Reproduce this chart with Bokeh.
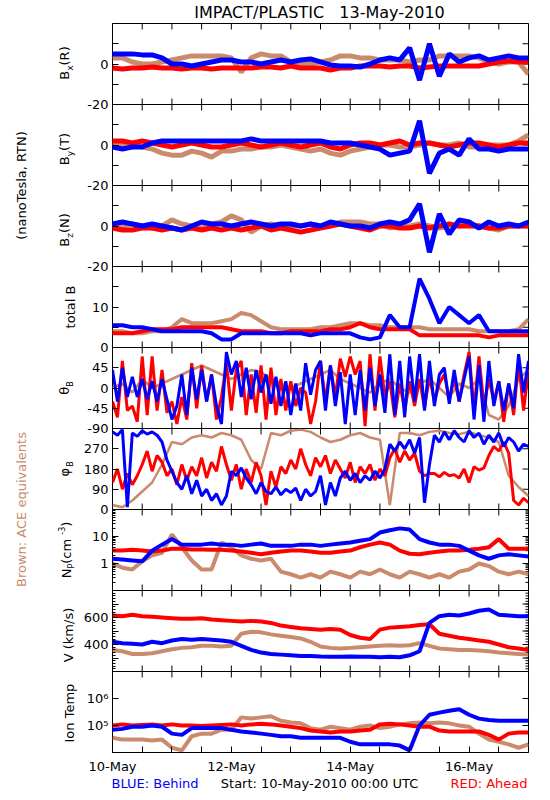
import math
from bokeh.plotting import figure
from bokeh.layouts import column, row
from bokeh.models import Label, FixedTicker, Range1d, CustomJSTickFormatter
from bokeh.embed import file_html
from bokeh.resources import INLINE

BLUE = "#0000ff"
RED = "#ff0000"
BROWN = "#c98b6c"
FONT = "DejaVu Sans"

# ---------------- data ----------------
hours4 = list(range(0, 169, 4))   # 4-hour samples, 10-May 00:00 .. 17-May 00:00
hours2 = list(range(0, 169, 2))   # 2-hour samples

xtick_hours = list(range(0, 169, 12))
xlabel_hours = [0, 48, 96, 144]
xlabel_names = ["10-May", "12-May", "14-May", "16-May"]

bx_blue = [5, 5, 5, 4.5, 4.5, 3, 0, 0, -1, 0, 1, 2, 2, 1, 1, 0, 1, 2, 1, 2, 2.5, 1, -0.5, -1,
           -1, -1.5, 0, 2, 3, 2, 8, -8, 10, -6, 5, 1, 3, 4, 2, 3, 4, 3, 3]
bx_red = [-2, -2.5, -2, -2, -1.5, -2, -2, -2.5, -2, -2, -2.5, -2, -2, -2, -2, -1.5, -1.5, -2,
          -1, -2, -2, -2, -3, -2, -2, -1, -1, -1, -1.5, -1, -1, -2, -1.5, -1, -1, -1,
          -1, -1, 0, 1, 1.5, 1, 1]
bx_brown = [3, 3, 1, 0, 0, 1, 2, 3, 4, 4, 4, 4, 3, -4, 3, 5, 4, 4, 1, 0, 0, 1, 2, 4,
            4, 3, 3, 2, 2, 2, 1, 2, 2, 4, 4, 4, 4, 3, 1, 0, 1, 1, -5]

by_blue = [-1, -2, -1, -1, 1, 2, 2, 2, 2, 2, 2, 2, 2, 2, 3, 2, 2, 2, 2, 2, 2, 2, 1, 1,
           1, 0, -1, -2, -5, -4, -3, 12, -14, -4, -2, -5, 3, -2, -2, -3, -2, -2, -2]
by_red = [2, 2, 1, 2, 1, 0, -1, 0, 1, 0, -1, -1, 0, 1, 0, -1, 0, 1, 0, -1, 0, 1, -1, -2,
          0, 1, 1, 0, 1, 2, 0, 1, 1, 0, -1, 0, 1, 1, 0, -1, 0, 1, 1]
by_brown = [1, 0, 0, -1, -2, -4, -5, -5, -3, -4, -6, -3, -3, -2, -2, -1, -1, 0, -1, -2, -3, -2, -4, -5,
            -3, -2, -1, 0, 0, -1, -1, 0, 1, 0, 0, 1, -1, -1, 0, 0, 0, 2, 5]

bz_blue = [1, 2, 1, 0, 1, 0, -1, -2, 0, 2, 1, 1, 0, 1, 2, 1, 0, 1, 1, 0, 1, 0, 2, 1,
           0, 0, -1, 1, 2, 1, 3, 11, -13, 6, -4, 3, 2, -1, 2, 0, 1, 0, 2]
bz_red = [-1, -2, -2, -1, -1, -2, -1, -2, -1, -2, -1, -2, -1, -2, -1, 0, -2, -1, -2, -3, -2, -1, 0, 1,
          0, -1, -2, 0, 0, -1, -1, 0, -1, 0, 1, 0, 0, 0, -1, -1, 0, 0, 0]
bz_brown = [0, 0, 1, 0, -1, 0, 3, 1, 0, -1, 1, 2, 5, 3, -3, 0, 1, 0, 0, 0, 1, 0, 0, 2,
            2, 2, 1, 1, -1, 0, 0, 1, 0, -1, 0, 0, 1, 0, -1, -2, 0, 0, 0]

totb_blue = [5.5, 5.5, 5, 5, 4.5, 4, 4, 4, 4, 4, 3.5, 2, 2, 3.5, 3.5, 3.5, 3.5, 3.5,
             3.5, 3.5, 3, 3.5, 3.5, 3.5, 3.5, 2.5, 2, 2.5, 8, 5, 5, 17, 12, 6, 10, 8,
             6, 8, 4, 4, 4, 4, 4]
totb_red = [3.5, 3.5, 3.5, 4, 4.5, 4.5, 4.5, 5, 5, 5, 5, 5, 4.5, 4, 4, 4, 3.5, 3.5,
            4, 4, 4, 4, 4.5, 4.5, 5, 6, 5, 4.5, 4.5, 4.5, 4.5, 3, 3, 3, 3, 3,
            3, 3, 2.5, 3, 3, 3, 3]
totb_brown = [4, 4, 3.5, 3.5, 4, 4, 5, 7, 6, 6, 6, 6.5, 7, 8.5, 8, 6.5, 5, 4.5,
              4.5, 4.5, 4.5, 5, 5, 5.5, 6, 6, 5.5, 5.5, 5, 5, 5, 5, 4.5, 4.5, 4.5, 4.5,
              4.5, 4, 4, 4, 4, 4.5, 7]

theta_blue = [40, -30, 45, -20, 25, -20, 20, -25, 15, -30, 20, -25, -70, -40, 30, -60,
              45, -25, 40, -30, 30, -40, -80, 80, 30, 60, -20, 45, -25, 40, -10,
              30, -35, 25, -40, 15, -60, 10, -50, 55, -15, 40, 60, -50, 50, -40, 35,
              -80, 30, -60, 40, -50, 45, -40, 30, -55, 75, -60, 60, -65, 70, -30,
              75, -50, 60, -40, 30, 45, -35, 40, -30, 20, 70, -70, 50, -75, 60, -40,
              15, -50, 10, -45, 75, -10, 60]
theta_red = [-30, -65, 60, -50, -40, -75, 70, -60, 70, -50, 40, -55, -30, -80, -20, -70,
             55, -45, 50, -30, 30, -70, -20, 55, -50, 40, 60, -60, 30, -55, 50,
             -70, 45, -60, 20, -50, 15, -40, 0, -10, -80, -30, 60, -30, 50, -20, 65,
             25, 70, 30, 60, -85, 75, -50, 70, -20, 15, -65, 10, -50, 15, -40,
             20, -45, 25, -30, 10, 30, -25, 20, -30, 30, 80, -50, 70, -40, 20, -30,
             15, -75, 10, -60, 60, -50, 40]
theta_brown = [0, 10, -10, 20, 0, 10, 20, 30, 40, 50, 40, 30, 20, 30, 40, 35, 20, 10,
               0, 10, 20, 30, 40, 20, 10, 0, -10, 10, 20, 0, -10, 10, 20, 0, -20, 10,
               0, 20, -60, -70, -40, 20, 40]

phi_blue = [345, 330, 355, 10, 340, 325, 350, 335, 345, 330, 300, 220, 170, 120,
            90, 150, 70, 130, 60, 90, 40, 70, 20, 60, 170, 150, 185, 140,
            110, 70, 120, 80, 70, 100, 65, 90, 75, 95, 40, 90, 60, 80,
            150, 20, 120, 60, 140, 170, 130, 160, 120, 150, 130, 170, 140, 180,
            290, 260, 300, 270, 310, 250, 320, 30, 200, 330, 300, 345, 310, 350, 320,
            300, 350, 320, 340, 290, 330, 300, 340, 280, 320, 300, 260, 290, 280]
phi_red = [120, 180, 90, 160, 110, 150, 200, 260, 170, 240, 210, 150,
           180, 110, 200, 130, 190, 150, 230, 140, 210, 170, 280, 200,
           130, 200, 90, 180, 120, 210, 150, 20, 170, 100, 190,
           160, 220, 180, 270, 200, 150, 230, 190, 240, 160, 220, 180,
           140, 210, 120, 190, 160, 200, 130, 180, 150, 230, 270, 210, 260, 220, 250,
           170, 150, 160, 160, 145, 165, 150, 155, 140, 180, 120, 190, 175, 185,
           240, 280, 260, 300, 250, 40, 20, 50, 30]
phi_brown = [20, 10, 40, 80, 120, 200, 300, 290, 320, 330, 320, 340, 330, 310, 220, 180, 340, 330,
             350, 355, 345, 320, 300, 310, 330, 340, 320, 310, 20, 340, 340, 330, 345, 350, 340, 335,
             345, 330, 320, 300, 150, 100, 60]

np_blue = [1.5, 1.4, 1.3, 1.2, 3, 5, 8, 5, 5, 5, 5.5, 5, 5, 4.5, 5, 5.5, 4.5, 4.5,
           4.5, 5, 5, 4.5, 5, 5.5, 6, 7, 8, 14, 17, 20, 18, 8, 6, 5, 5, 4.5,
           3, 2, 1.5, 2, 2.2, 2, 1.8]
np_red = [3, 3, 3.2, 3, 2.8, 3, 3.5, 3.5, 3.3, 3.3, 3.2, 3.2, 3, 2.8, 2.5, 2.2, 2.5, 2.8,
          3, 3, 2.8, 2.5, 2.5, 2.8, 3, 4, 5, 6, 5, 3, 2.3, 2.2, 2.5, 2.8, 3, 3,
          3.2, 3.5, 4, 8, 3.5, 3.5, 3.5]
np_brown = [1, 0.7, 0.6, 1.2, 2, 2.5, 12, 4, 1.3, 0.6, 0.6, 6, 4, 2, 1.5, 1.3, 1.5,
            0.5, 0.4, 0.3, 0.4, 0.3, 0.5, 0.4, 0.3, 0.5, 0.4, 0.6, 0.4, 0.3, 0.5, 0.4,
            0.3, 0.4, 0.3, 0.5, 0.6, 1, 0.8, 0.5, 0.4, 0.5, 0.4]

v_red = [615, 610, 620, 610, 605, 600, 595, 590, 590, 595, 585, 580, 575, 570, 575, 570, 560, 540,
         530, 520, 515, 510, 515, 510, 470, 450, 440, 510, 525, 530, 535, 545, 550, 480, 465, 450,
         440, 430, 420, 400, 380, 370, 360]
v_blue = [420, 410, 405, 400, 420, 410, 430, 440, 435, 440, 435, 430, 420, 390, 360, 340, 330, 325,
          320, 315, 315, 312, 310, 310, 312, 310, 310, 305, 310, 305, 320, 350, 560, 610, 620, 615,
          630, 650, 660, 620, 615, 610, 610]
v_brown = [360, 350, 330, 330, 335, 350, 365, 375, 380, 390, 390, 385, 390, 480, 495, 490, 475, 465,
           455, 445, 420, 385, 375, 370, 375, 380, 385, 390, 395, 390, 395, 410, 390, 370, 365, 360,
           360, 355, 350, 340, 335, 330, 325]

temp_red = [1.0e5, 1.1e5, 1.0e5, 1.05e5, 1.1e5, 1.0e5, 1.1e5, 1.0e5, 1.0e5, 0.95e5, 1.0e5, 1.05e5,
            1.1e5, 1.0e5, 1.1e5, 1.15e5, 1.1e5, 1.0e5, 9e4, 8e4, 6.5e4, 6e4, 5.5e4, 6e4,
            6e4, 6.5e4, 7e4, 1.1e5, 1.15e5, 1.1e5, 1.0e5, 9e4, 9e4, 6.5e4, 6e4, 6e4,
            6e4, 6e4, 4.5e4, 3e4, 5e4, 5.5e4, 5.5e4]
temp_blue = [7e4, 7.5e4, 9e4, 9e4, 1e5, 9e4, 5e4, 4.5e4, 8e4, 8e4, 8e4, 8e4,
             7e4, 6e4, 5.5e4, 5e4, 4.5e4, 4e4, 4e4, 3.5e4, 3.5e4, 3.5e4, 3.5e4, 3.5e4,
             2.5e4, 2e4, 2e4, 2e4, 2e4, 1.8e4, 1.2e4, 1e5, 2.5e5, 3e5, 3.5e5, 4e5,
             2.5e5, 1.8e5, 1.6e5, 1.5e5, 1.5e5, 1.5e5, 1.5e5]
temp_brown = [3.5e4, 3e4, 3e4, 3e4, 2.8e4, 3e4, 1.5e4, 1.2e4, 4e4, 5e4, 5e4, 7e4,
              7e4, 2e5, 1.8e5, 2e5, 2.2e5, 1.5e5, 1.3e5, 1.2e5, 8e4, 7e4, 9e4, 8e4,
              7e4, 9e4, 1e5, 8e4, 9e4, 1.1e5, 1.2e5, 1.3e5, 1.2e5, 1.3e5, 1.2e5, 1.0e5,
              9e4, 5e4, 3e4, 2.5e4, 2e4, 1.5e4, 2e4]

# ---------------- layout ----------------
PAGE_W = 542
FRAME_W = 416
FRAME_H = 81
LEFT_COL = 80
LEFT = 31
RIGHT = 15
PAD = 7            # hidden border above/below inner panels, overlapped by neighbours
TITLE_H = 23
XLAB_H = 24
FOOT_H = 20
STACK_H = 9 * FRAME_H + XLAB_H

EMW = {"B": .686, "x": .592, "y": .592, "z": .525, "(": .39, ")": .39, "R": .695, "T": .611,
       "N": .748, " ": .318, "P": .603, "c": .55, "m": .974, "-": .361, "3": .636,
       "θ": .602, "φ": .75, "t": .392, "o": .612, "a": .613, "l": .278, "V": .684,
       "k": .579, "/": .337, "s": .521, "I": .295, "n": .634, "e": .615, "p": .635}


def tw(s, size):
    return sum(EMW.get(c, 0.6) for c in s) * size


def fmt(vals, labs):
    return CustomJSTickFormatter(args=dict(vals=vals, labs=labs), code="""
        for (let i = 0; i < vals.length; i++) {
            if (Math.abs(tick - vals[i]) <= 1e-6 * Math.max(1, Math.abs(vals[i]))) return labs[i];
        }
        return "";
    """)


def style(ax):
    ax.axis_line_color = None
    ax.major_tick_line_color = "black"
    ax.minor_tick_line_color = "black"
    ax.major_tick_in = 6
    ax.major_tick_out = 0
    ax.minor_tick_in = 3
    ax.minor_tick_out = 0
    ax.major_label_text_font = FONT
    ax.major_label_text_color = "black"
    ax.major_label_text_font_size = "13px"
    ax.major_label_standoff = 4


def blank_fig(w, h):
    f = figure(frame_width=w, frame_height=h, x_range=Range1d(0, 1), y_range=Range1d(0, 1),
               output_backend="svg", toolbar_location=None, x_axis_location=None, y_axis_location=None,
               min_border_left=0, min_border_right=0, min_border_top=0, min_border_bottom=0,
               background_fill_color=None, border_fill_color=None)
    f.grid.visible = False
    f.outline_line_color = None
    return f


def make_panel(k, ylo, yhi, log, yticks, ylabels, yminor, right_minor):
    first = k == 0
    last = k == 8
    p = figure(frame_width=FRAME_W, frame_height=FRAME_H,
               x_range=Range1d(0, 168), y_range=Range1d(ylo, yhi),
               y_axis_type="log" if log else "linear",
               x_axis_location="below" if last else None,
               output_backend="svg", toolbar_location=None,
               min_border_left=LEFT, min_border_right=RIGHT,
               min_border_top=0 if first else PAD, min_border_bottom=XLAB_H if last else PAD,
               margin=(0, 0, 0, 0) if first else (-2 * PAD, 0, 0, 0),
               background_fill_color=None, border_fill_color=None)
    p.grid.visible = False
    p.outline_line_color = "black"
    p.outline_line_width = 1
    lax = p.yaxis[0]
    lax.ticker = FixedTicker(ticks=yticks, minor_ticks=yminor)
    lax.formatter = fmt(yticks, ylabels)
    style(lax)
    # mirrored y ticks on the right edge
    p.ray(x=[168] * len(yticks), y=yticks, length=6, length_units="screen", angle=math.pi,
          line_color="black", line_width=1)
    if right_minor:
        p.ray(x=[168] * len(yminor), y=yminor, length=3, length_units="screen", angle=math.pi,
              line_color="black", line_width=1)
    # x ticks on top (and bottom of inner panels)
    p.ray(x=xtick_hours, y=[yhi] * len(xtick_hours), length=6, length_units="screen",
          angle=-math.pi / 2, line_color="black", line_width=1)
    if last:
        bax = p.xaxis[0]
        bax.ticker = FixedTicker(ticks=xtick_hours, minor_ticks=[])
        bax.formatter = fmt(xlabel_hours, xlabel_names)
        style(bax)
        bax.major_label_standoff = 6
    else:
        p.ray(x=xtick_hours, y=[ylo] * len(xtick_hours), length=6, length_units="screen",
              angle=math.pi / 2, line_color="black", line_width=1)
    return p


def draw(p, x, series, width):
    for ys, color in series:
        p.line(x, ys, line_color=color, line_width=width, line_join="bevel")


panels = []

p = make_panel(0, -20, 20, False, [-20, -10, 0, 10, 20], ["-20", "", "0", "", ""], [], False)
draw(p, hours4, [(bx_brown, BROWN), (bx_red, RED), (bx_blue, BLUE)], 5)
panels.append(p)

p = make_panel(1, -20, 20, False, [-20, -10, 0, 10, 20], ["-20", "", "0", "", ""], [], False)
draw(p, hours4, [(by_brown, BROWN), (by_red, RED), (by_blue, BLUE)], 5)
panels.append(p)

p = make_panel(2, -20, 20, False, [-20, -10, 0, 10, 20], ["-20", "", "0", "", ""], [], False)
draw(p, hours4, [(bz_brown, BROWN), (bz_red, RED), (bz_blue, BLUE)], 5)
panels.append(p)

p = make_panel(3, 0, 20, False, [0, 5, 10, 15, 20], ["0", "", "10", "", ""], [], False)
draw(p, hours4, [(totb_brown, BROWN), (totb_red, RED), (totb_blue, BLUE)], 4)
panels.append(p)

p = make_panel(4, -90, 90, False, [-90, -45, 0, 45, 90], ["-90", "-45", "0", "45", ""], [], False)
draw(p, hours4, [(theta_brown, BROWN)], 2.5)
draw(p, hours2, [(theta_red, RED), (theta_blue, BLUE)], 3)
panels.append(p)

p = make_panel(5, 0, 360, False, [0, 90, 180, 270, 360], ["0", "90", "180", "270", ""], [], False)
draw(p, hours4, [(phi_brown, BROWN)], 2.5)
draw(p, hours2, [(phi_red, RED), (phi_blue, BLUE)], 3)
panels.append(p)

np_minor = [m * d for d in (0.1, 1, 10) for m in range(2, 10)]
p = make_panel(6, 0.1, 100, True, [0.1, 1, 10, 100], ["", "1", "10", ""], np_minor, True)
draw(p, hours4, [(np_brown, BROWN), (np_red, RED), (np_blue, BLUE)], 4)
panels.append(p)

v_minor = list(range(200, 801, 20))
p = make_panel(7, 200, 800, False, [200, 300, 400, 500, 600, 700, 800], ["", "", "400", "", "600", "", ""],
               v_minor, True)
draw(p, hours4, [(v_brown, BROWN), (v_red, RED), (v_blue, BLUE)], 4)
panels.append(p)

p = make_panel(8, 1e4, 1e7, True, [1e4, 1e5, 1e6, 1e7], ["", "10⁵", "10⁶", ""], [], False)
draw(p, hours4, [(temp_brown, BROWN), (temp_red, RED), (temp_blue, BLUE)], 4)
panels.append(p)

# ---- title strip ----
title_fig = blank_fig(PAGE_W, TITLE_H)
title_fig.add_layout(Label(x=LEFT_COL + LEFT + FRAME_W / 2, y=TITLE_H - 12, x_units="screen", y_units="screen",
                           text="IMPACT/PLASTIC\u00a0\u00a0\u00a013-May-2010", text_align="center",
                           text_baseline="middle", text_font=FONT, text_font_size="16px", text_color="black"))

# ---- left strip: side texts and panel titles ----
left_fig = blank_fig(LEFT_COL, STACK_H)


def vlabel(pieces, xc, yc, color="black"):
    total = sum(tw(t, s) for t, s, dx in pieces)
    y = yc - total / 2
    for t, s, dx in pieces:
        left_fig.add_layout(Label(x=xc + dx, y=y, x_units="screen", y_units="screen", text=t,
                                  angle=math.pi / 2, text_align="left", text_baseline="middle",
                                  text_font=FONT, text_font_size=f"{s}px", text_color=color))
        y += tw(t, s)


def panel_center(k):
    return STACK_H - (k * FRAME_H + FRAME_H / 2)


for txt, pagey, col in [("(nanoTesla, RTN)", 185, "black"), ("Brown: ACE equivalents", 509, BROWN)]:
    left_fig.add_layout(Label(x=21, y=STACK_H - (pagey - TITLE_H), x_units="screen", y_units="screen",
                              text=txt, angle=math.pi / 2, text_align="center", text_baseline="middle",
                              text_font=FONT, text_font_size="13px", text_color=col))

vlabel([("B", 13, 0), ("x", 9, 5), ("(R)", 13, 0)], 64, panel_center(0) + 1)
vlabel([("B", 13, 0), ("y", 9, 5), ("(T)", 13, 0)], 64, panel_center(1) - 4)
vlabel([("B", 13, 0), ("z", 9, 5), ("(N)", 13, 0)], 64, panel_center(2) - 4)
vlabel([("total B", 13, 0)], 70, panel_center(3))
vlabel([("θ", 13, 0), ("B", 8, 6)], 64, panel_center(4))
vlabel([("φ", 13, 0), ("B", 8, 6)], 64, panel_center(5))
vlabel([("N", 13, 0), ("P", 8, 5), (" (cm", 13, 0), ("-3", 8, -5), (")", 13, 0)], 66, panel_center(6))
vlabel([("V (km/s)", 13, 0)], 68, panel_center(7) - 4)
vlabel([("Ion Temp", 13, 0)], 69, panel_center(8))

# ---- footer strip ----
foot_fig = blank_fig(PAGE_W, FOOT_H)
x0 = LEFT_COL + LEFT
for txt, xx, al, col in [("BLUE: Behind", x0, "left", BLUE),
                         ("Start: 10-May-2010 00:00 UTC", x0 + FRAME_W / 2, "center", "black"),
                         ("RED: Ahead", x0 + FRAME_W, "right", RED)]:
    foot_fig.add_layout(Label(x=xx, y=FOOT_H - 7, x_units="screen", y_units="screen", text=txt,
                              text_align=al, text_baseline="middle", text_font=FONT,
                              text_font_size="13px", text_color=col))

layout = column(title_fig,
                row(left_fig, column(*panels, spacing=0), spacing=0),
                foot_fig, spacing=0)

open("out.html", "w").write(file_html(layout, INLINE))
